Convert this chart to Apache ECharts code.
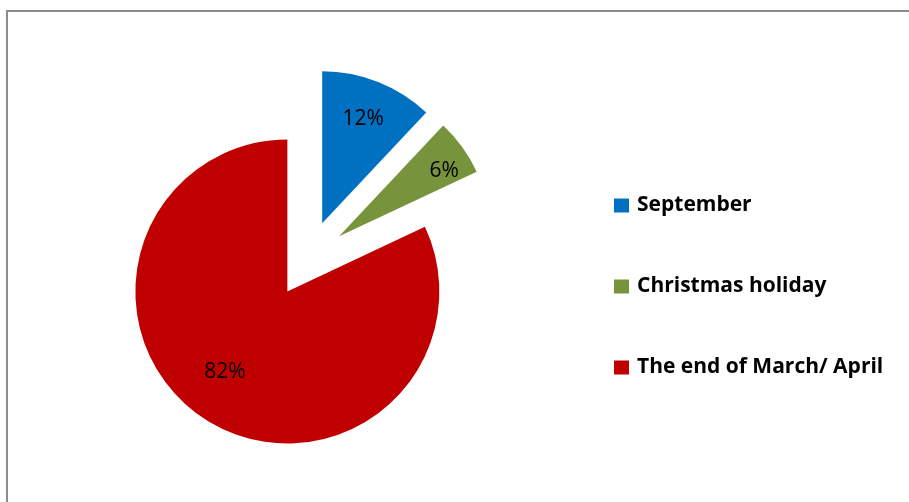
<!DOCTYPE html>
<html>
<head>
<meta charset="utf-8">
<title>Timing</title>
<script src="https://cdn.jsdelivr.net/npm/echarts@6/dist/echarts.min.js"></script>
<style>
  html, body { margin: 0; padding: 0; background: #ffffff; }
  #chart { width: 909px; height: 502px; }
</style>
</head>
<body>
<div id="chart"></div>
<script>
// Periods and their shares (percent)
const categories = ['September', 'Christmas holiday', 'The end of March/ April'];
const shares = [12, 6, 82];
const colors = ['#0070C0', '#77933C', '#C00000'];

// Nudges that move each percentage label off the default inner ring
const labelShift = [[12, -31], [41, -19], [-20, 14]];

const chart = echarts.init(document.getElementById('chart'), null, { renderer: 'canvas' });

const FONT = '"Open Sans", "Noto Sans", sans-serif';

const pieData = categories.map((name, i) => ({
  name: name,
  value: shares[i],
  selected: true,
  itemStyle: { color: colors[i] }
}));

chart.setOption({
  animation: false,
  backgroundColor: '#ffffff',
  graphic: [{
    type: 'rect',
    shape: { x: 7, y: 11, width: 1000, height: 1000 },
    style: { fill: 'none', stroke: '#8c8c8c', lineWidth: 2 },
    silent: true
  }],
  legend: {
    orient: 'vertical',
    left: 609,
    top: 190,
    padding: 5,
    itemWidth: 15,
    itemHeight: 14,
    itemGap: 60,
    icon: 'rect',
    selectedMode: false,
    data: categories,
    textStyle: {
      fontFamily: FONT,
      fontSize: 21,
      fontWeight: 'bold',
      color: '#000000',
      lineHeight: 21,
      padding: [0, 0, 0, 3]
    }
  },
  series: [{
    type: 'pie',
    center: [308, 259],
    radius: [0, 152],
    startAngle: 90,
    clockwise: true,
    selectedMode: 'multiple',
    selectedOffset: 38.5,
    avoidLabelOverlap: false,
    emphasis: { disabled: true },
    itemStyle: { borderWidth: 0 },
    label: {
      show: true,
      position: 'inside',
      formatter: '{c}%',
      fontFamily: FONT,
      fontSize: 21,
      color: '#000000'
    },
    labelLine: { show: false },
    labelLayout: function (p) {
      const s = labelShift[p.dataIndex];
      return { dx: s[0], dy: s[1] };
    },
    data: pieData
  }]
});
</script>
</body>
</html>
